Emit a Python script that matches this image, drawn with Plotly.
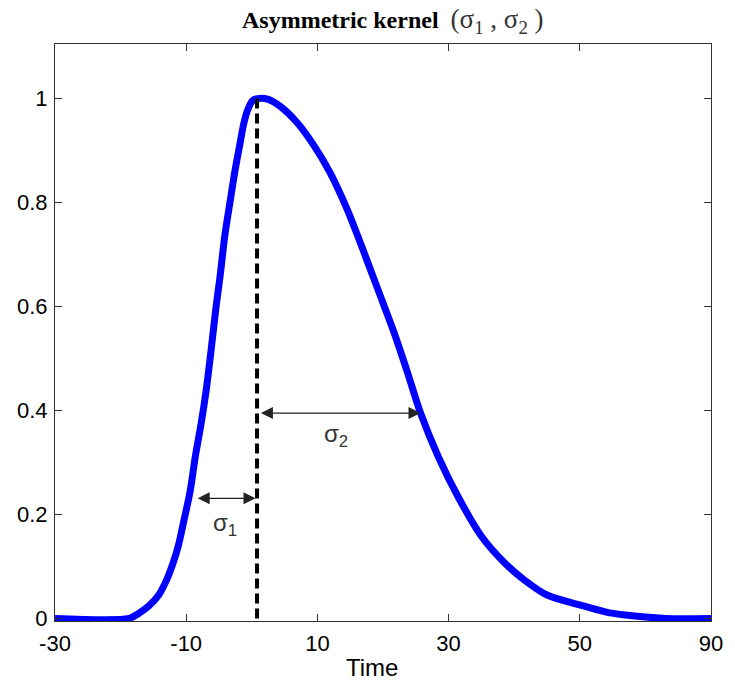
import plotly.graph_objects as go

# ---- data (axis units: x spans 0..250 underneath the printed Time labels) ----
time_tick_vals = [0, 50, 100, 150, 200, 250]
time_tick_text = ["-30", "-10", "10", "30", "50", "90"]
y_tick_vals = [0, 0.2, 0.4, 0.6, 0.8, 1.0]
y_tick_text = ["0", "0.2", "0.4", "0.6", "0.8", "1"]

kernel_x = [0, 28.24, 32.00, 35.77, 39.53, 42.55, 45.18, 47.06, 48.95, 51.58, 53.46,
            55.72, 57.61, 59.49, 61.37, 62.88, 64.76, 66.64, 68.52, 70.41, 71.91,
            73.42, 75.30, 77.18, 80.95, 85.84, 92.24, 98.64, 104.67, 111.07, 117.09,
            123.12, 129.14, 134.41, 139.31, 146.08, 153.61, 162.65, 171.31, 178.84,
            187.50, 199.92, 210.09, 216.49, 232.68, 250]
kernel_y = [0, 0, 0.010, 0.024, 0.045, 0.074, 0.109, 0.141, 0.184, 0.247, 0.311,
            0.376, 0.439, 0.516, 0.599, 0.657, 0.738, 0.799, 0.859, 0.911, 0.951,
            0.978, 0.996, 1.0, 0.999, 0.985, 0.954, 0.910, 0.859, 0.790, 0.713,
            0.632, 0.551, 0.472, 0.395, 0.311, 0.234, 0.157, 0.107, 0.074,
            0.045, 0.026, 0.012, 0.007, 0.0, 0.0]

peak_x = [77.0, 77.0]
peak_y = [0.0, 1.0]

sigma1_x = [53.8, 76.4]
sigma1_y = 0.231
sigma2_x = [77.9, 139.3]
sigma2_y = 0.395
sigma1_label = (64.6, 0.180)
sigma2_label = (107.0, 0.352)

fig = go.Figure()
fig.add_trace(go.Scatter(
    x=kernel_x, y=kernel_y, mode="lines",
    line=dict(color="#0000ff", width=7, shape="spline", smoothing=0.8),
    showlegend=False, hoverinfo="skip"))
fig.add_trace(go.Scatter(
    x=peak_x, y=peak_y, mode="lines",
    line=dict(color="black", width=4, dash="10px,5px"),
    showlegend=False, hoverinfo="skip"))

arrow_style = dict(showarrow=True, text="", arrowhead=2, startarrowhead=2,
                   arrowside="end+start", arrowsize=2.0, startarrowsize=2.0,
                   arrowwidth=1.2, arrowcolor="#222222",
                   xref="x", yref="y", axref="x", ayref="y", standoff=0, startstandoff=0)
fig.add_annotation(x=sigma1_x[1], y=sigma1_y, ax=sigma1_x[0], ay=sigma1_y, **arrow_style)
fig.add_annotation(x=sigma2_x[1], y=sigma2_y, ax=sigma2_x[0], ay=sigma2_y, **arrow_style)

lab_font = dict(family="Liberation Sans, Arial", size=24, color="#333333")
fig.add_annotation(x=sigma1_label[0], y=sigma1_label[1], text="σ<sub>1</sub>",
                   showarrow=False, xref="x", yref="y", font=lab_font)
fig.add_annotation(x=sigma2_label[0], y=sigma2_label[1], text="σ<sub>2</sub>",
                   showarrow=False, xref="x", yref="y", font=lab_font)

# title
fig.add_annotation(
    x=(242 - 55) / 664, y=(621 - 21) / 577, xref="paper", yref="paper",
    xanchor="left", yanchor="middle", showarrow=False,
    text="<b>Asymmetric kernel</b>\u00a0\u00a0<span style='color:#333333;font-size:27px'>(σ<sub>1</sub> , σ<sub>2</sub> )</span>",
    font=dict(family="Liberation Serif, Times New Roman", size=24, color="black"))

# x label
fig.add_annotation(
    x=(376 - 55) / 664, y=(621 - 667) / 577, xref="paper", yref="paper",
    xanchor="center", yanchor="middle", showarrow=False, text="Time",
    font=dict(family="Liberation Sans, Arial", size=24, color="black"))

axis_common = dict(showline=True, linecolor="#333333", linewidth=1.2, mirror="ticks",
                   ticks="inside", ticklen=7, tickwidth=1.2, tickcolor="#333333",
                   showgrid=False, zeroline=False,
                   tickfont=dict(family="Liberation Sans, Arial", size=22, color="black"))

fig.update_xaxes(range=[0, 250], tickvals=time_tick_vals, ticktext=time_tick_text,
                 ticklabelstandoff=2, **axis_common)
fig.update_yaxes(range=[-0.005, 1.105], tickvals=y_tick_vals, ticktext=y_tick_text,
                 ticklabelstandoff=2, **axis_common)

fig.update_layout(width=735, height=681, margin=dict(l=55, r=16, t=44, b=60),
                  paper_bgcolor="white", plot_bgcolor="white")

fig.write_html("out.html")
